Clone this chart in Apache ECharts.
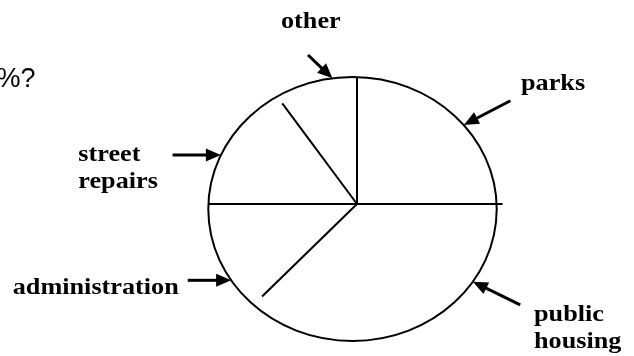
<!DOCTYPE html>
<html>
<head>
<meta charset="utf-8">
<script src="https://cdn.jsdelivr.net/npm/echarts@6/dist/echarts.min.js"></script>
<style>
    html, body { margin: 0; padding: 0; background: #fff; }
    #chart { width: 634px; height: 356px; }
</style>
</head>
<body>
<div id="chart"></div>
<script>
// 各部分名称（逆时针，从右边水平线开始）
var categories = ['parks', 'other', 'street repairs', 'administration', 'public housing'];
// 各部分所占百分比，从图上量的角度估出来
var shares = [25, 9.5, 15.5, 13, 37];

// 椭圆位置大小，中心点（线交汇处）
var pie = {cx: 352.5, cy: 209, rx: 144.2, ry: 132, hubX: 357, hubY: 204};
// 每条分割线画到边上的比例（手画的，有的没画到边）
var edgeReach = [1.043, 1.0, 0.936, 1.0, 0.917];
// 标签位置 + 箭头（箭头尖在椭圆上的角度，箭尾相对箭头尖的偏移）
var labelLayout = [
    {x: 521, y: 70.9, tipAngle: 39.5, tail: [46.6, -24.3]},
    {x: 281, y: 8.4, tipAngle: 98, tail: [-24.4, -23.3]},
    {x: 78.3, y: 142.2, tipAngle: 155.9, tail: [-48.3, 0]},
    {x: 12.7, y: 274.6, tipAngle: 212.7, tail: [-43.4, 0]},
    {x: 534, y: 301.6, tipAngle: 326.6, tail: [47.3, 23.3]}
];

var dom = document.getElementById('chart');
var myChart = echarts.init(dom, null, {renderer: 'canvas'});

function rayToEdge(phi) {
    // 从中心点沿 phi 方向射到椭圆边上
    var px = (pie.hubX - pie.cx) / pie.rx, py = (pie.hubY - pie.cy) / pie.ry;
    var qx = Math.cos(phi), qy = -Math.sin(phi);
    var pq = px * qx + py * qy;
    var t = -pq + Math.sqrt(pq * pq - (px * px + py * py) + 1);
    return [pie.rx * qx * t, pie.ry * qy * t];
}

function arrowEls(tip, tail) {
    var dx = tip[0] - tail[0], dy = tip[1] - tail[1];
    var len = Math.sqrt(dx * dx + dy * dy);
    var ux = dx / len, uy = dy / len;
    var headLen = 15, headHalf = 6.5;
    var bx = tip[0] - ux * headLen, by = tip[1] - uy * headLen;
    return [
        {
            type: 'line',
            shape: {x1: tail[0], y1: tail[1], x2: bx + ux * 2, y2: by + uy * 2},
            style: {stroke: '#000', lineWidth: 3}
        },
        {
            type: 'polygon',
            shape: {points: [tip, [bx - uy * headHalf, by + ux * headHalf], [bx + uy * headHalf, by - ux * headHalf]]},
            style: {fill: '#000'}
        }
    ];
}

function renderSlice(params, api) {
    var i = params.dataIndex;
    var total = 0, before = 0;
    for (var k = 0; k < shares.length; k++) {
        total += shares[k];
        if (k < i) before += shares[k];
    }
    var phi = before / total * Math.PI * 2;
    var edge = rayToEdge(phi);
    var children = [];

    if (i === 0) {
        children.push({
            type: 'ellipse',
            shape: {cx: pie.cx, cy: pie.cy, rx: pie.rx, ry: pie.ry},
            style: {fill: 'transparent', stroke: '#000', lineWidth: 2}
        });
    }
    // 该部分起始的分割线
    children.push({
        type: 'line',
        shape: {
            x1: pie.hubX, y1: pie.hubY,
            x2: pie.hubX + edge[0] * edgeReach[i],
            y2: pie.hubY + edge[1] * edgeReach[i]
        },
        style: {stroke: '#000', lineWidth: 2}
    });

    var lay = labelLayout[i];
    var a = lay.tipAngle * Math.PI / 180;
    var tip = [pie.cx + pie.rx * Math.cos(a), pie.cy - pie.ry * Math.sin(a)];
    var tail = [tip[0] + lay.tail[0], tip[1] + lay.tail[1]];
    children = children.concat(arrowEls(tip, tail));

    children.push({
        type: 'text',
        x: lay.x,
        y: lay.y,
        scaleX: 1.14,
        style: {
            text: categories[i].replace(' ', '\n'),
            font: 'bold 23px "Liberation Serif", "Times New Roman", serif',
            fill: '#000',
            align: 'left',
            verticalAlign: 'top',
            lineHeight: 26.7
        }
    });

    return {type: 'group', children: children};
}

var option = {
    animation: false,
    backgroundColor: '#fff',
    graphic: [{
        type: 'text',
        x: 35.5,
        y: 66.4,
        style: {
            text: '%?',
            font: '27px "Liberation Sans", Arial, sans-serif',
            fill: '#000',
            align: 'right',
            verticalAlign: 'top',
            lineHeight: 27
        }
    }],
    series: [{
        type: 'custom',
        coordinateSystem: 'none',
        renderItem: renderSlice,
        data: shares.map(function (v, idx) {
            return {name: categories[idx], value: [v]};
        })
    }]
};

myChart.setOption(option);
</script>
</body>
</html>
